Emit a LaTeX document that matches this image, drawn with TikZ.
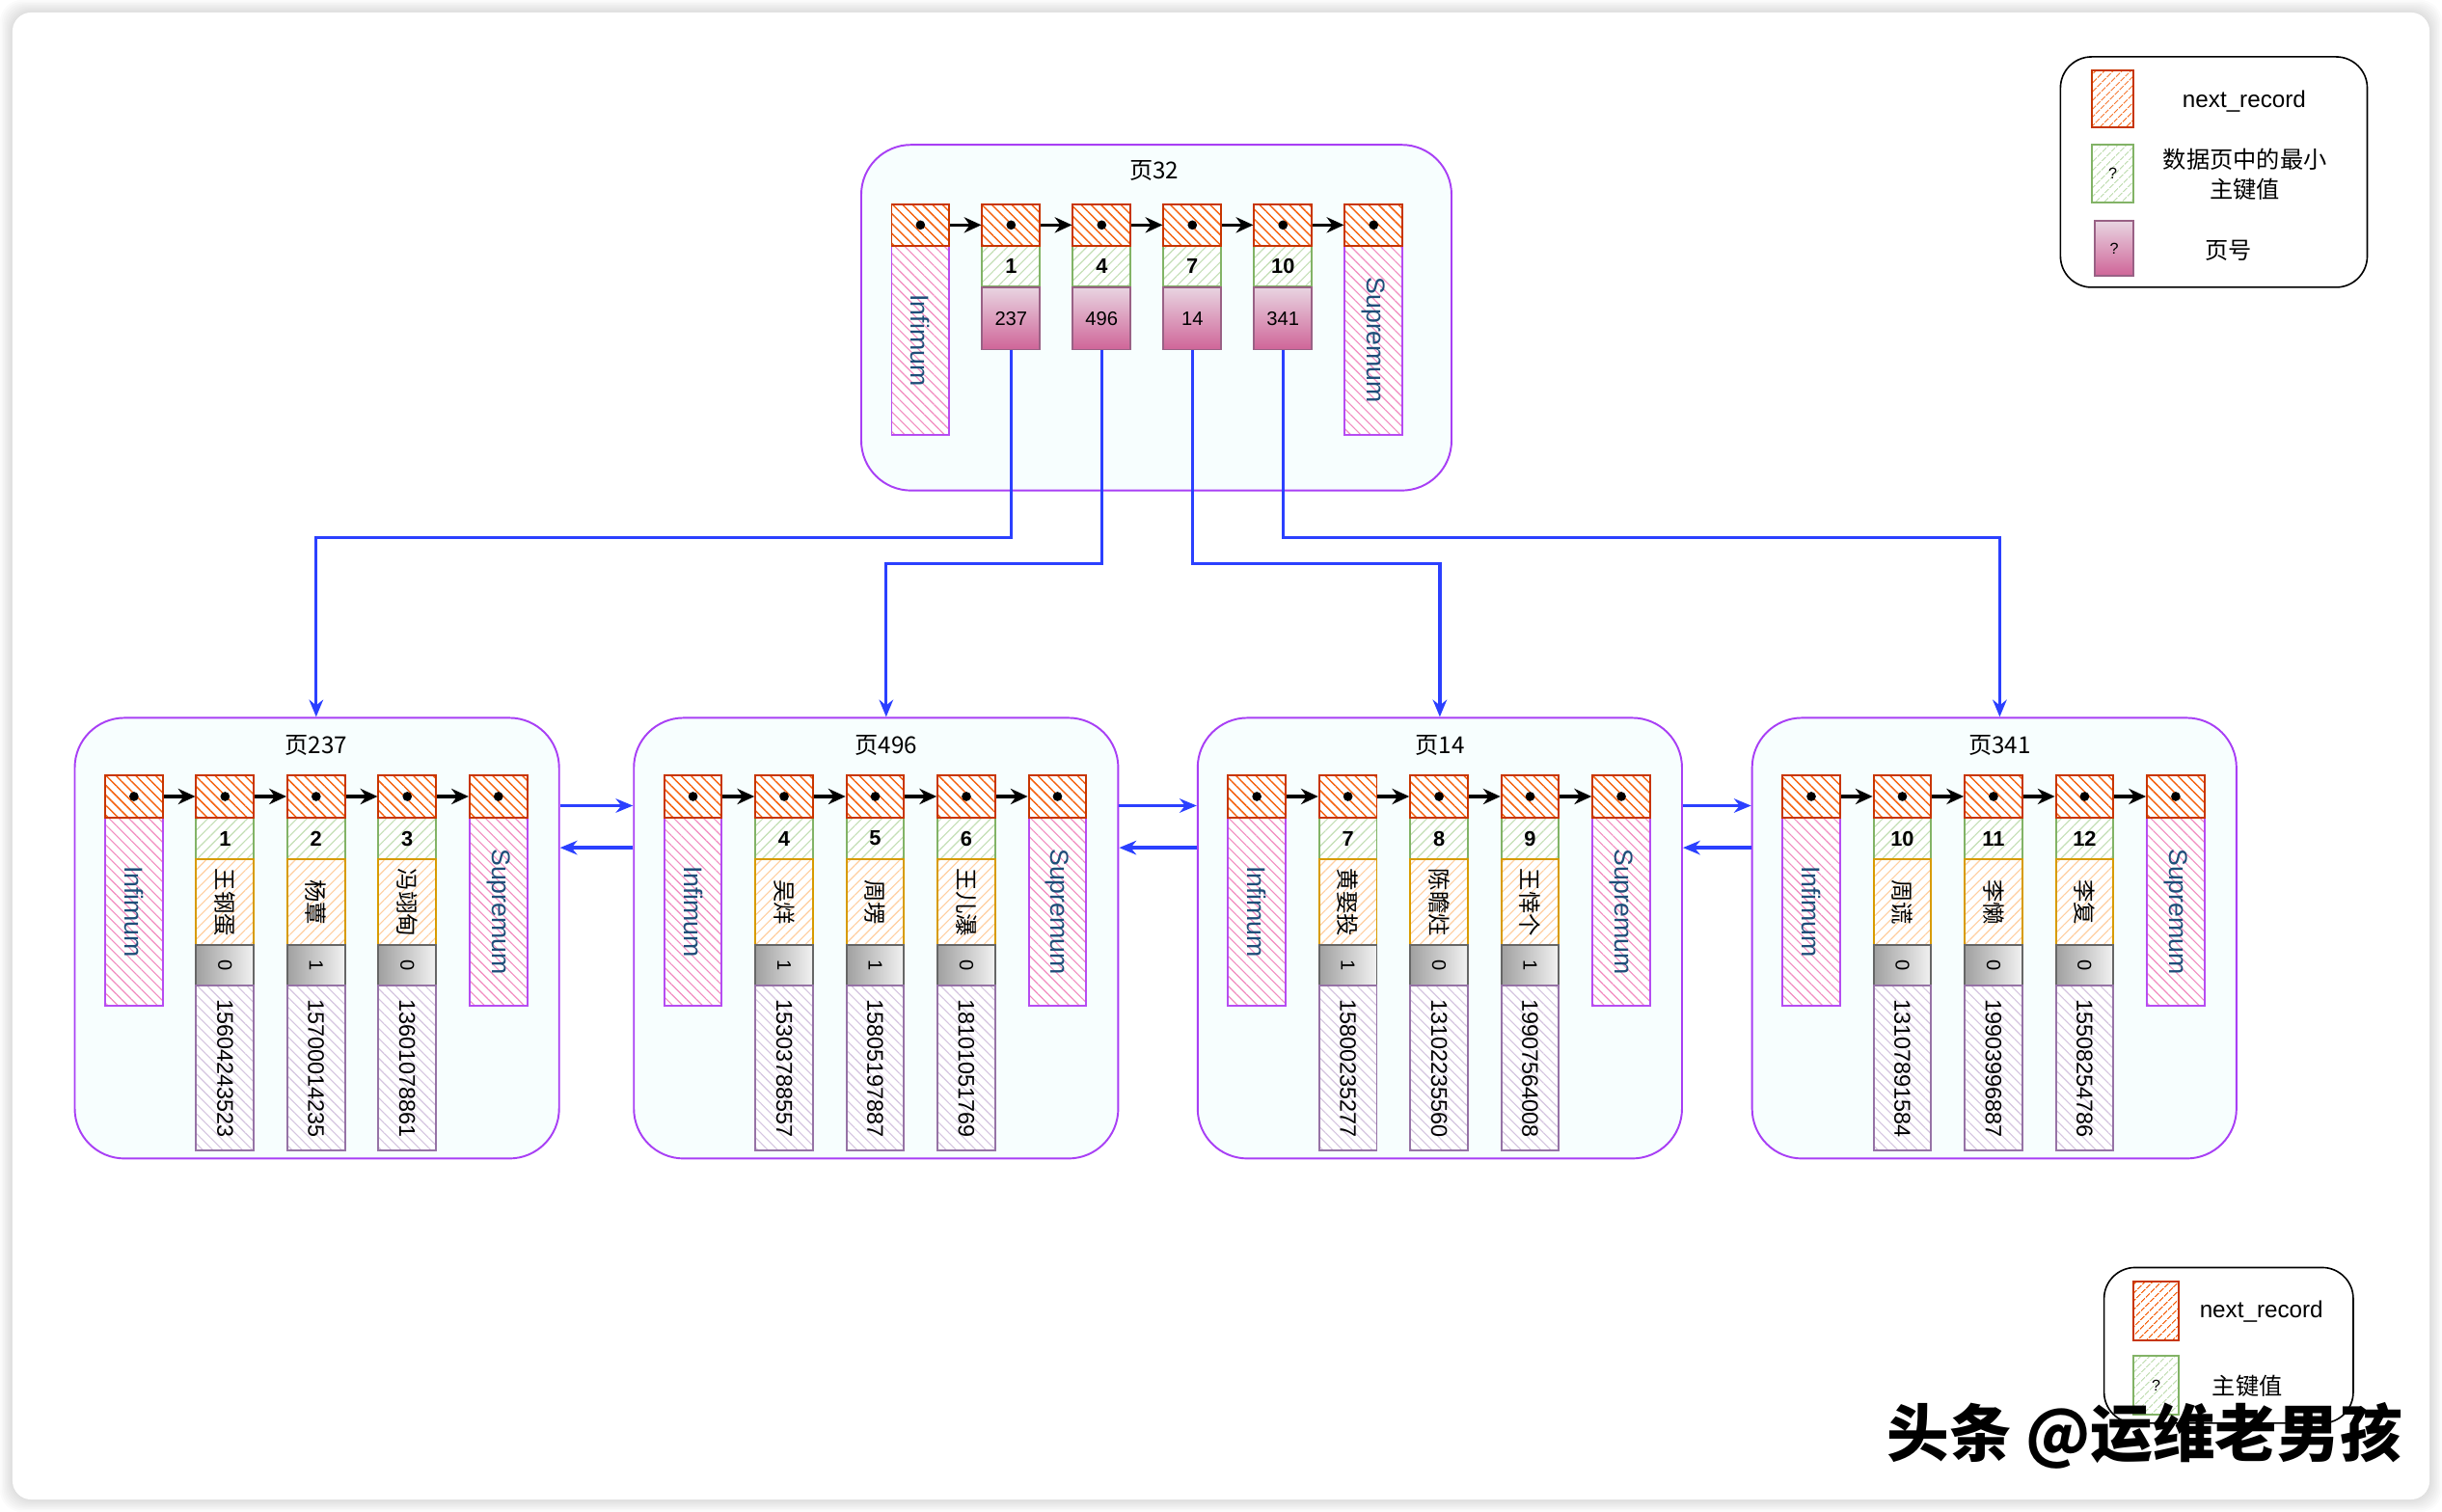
\documentclass[tikz,border=0pt]{standalone}
\usepackage{fontspec}
\setmainfont{Liberation Sans}
\newfontfamily\cjk{Noto Sans CJK SC}
\usetikzlibrary{arrows.meta,patterns.meta}
\definecolor{ptrline}{HTML}{C73500}
\definecolor{ptrhatch}{HTML}{F5620F}
\definecolor{keyline}{HTML}{82B366}
\definecolor{keyhatch}{HTML}{C4DFB6}
\definecolor{nameline}{HTML}{D79B00}
\definecolor{namehatch}{HTML}{FFCFA0}
\definecolor{phoneline}{HTML}{9673A6}
\definecolor{phonehatch}{HTML}{D5C5E0}
\definecolor{bordline}{HTML}{B64CF2}
\definecolor{bordhatch}{HTML}{F28CC0}
\definecolor{bordtext}{HTML}{1E4E79}
\definecolor{pnline}{HTML}{996185}
\definecolor{pntop}{HTML}{E8D4E1}
\definecolor{pnbot}{HTML}{CF6598}
\definecolor{flagline}{HTML}{666666}
\definecolor{flagdark}{HTML}{A0A0A0}
\definecolor{flaglight}{HTML}{F2F2F2}
\definecolor{pageline}{HTML}{A83FF5}
\definecolor{pagefill}{HTML}{F7FEFE}
\definecolor{linkblue}{HTML}{2B40FF}

\begin{document}
\begin{tikzpicture}[x=1pt,y=-1pt]
	\tikzstyle{ptr}=[draw=ptrline,line width=1.2pt,preaction={fill=white},pattern={Lines[angle=-45,distance=4.5pt,line width=0.9pt]},pattern color=ptrhatch,minimum width=37pt,minimum height=27pt,inner sep=0pt,path picture={\fill[black] (path picture bounding box.center) circle (3pt);}]
	\tikzstyle{key}=[draw=keyline,line width=1.2pt,preaction={fill=white},pattern={Lines[angle=45,distance=4.5pt,line width=0.7pt]},pattern color=keyhatch,minimum width=37pt,minimum height=27pt,inner sep=0pt,font=\bfseries\fontsize{13.5pt}{15pt}\selectfont]
	\tikzstyle{uname}=[draw=nameline,line width=1.2pt,preaction={fill=white},pattern={Lines[angle=45,distance=4.5pt,line width=0.7pt]},pattern color=namehatch,minimum width=37pt,minimum height=55pt,inner sep=0pt,font=\cjk\fontsize{14.5pt}{16pt}\selectfont]
	\tikzstyle{flag}=[draw=flagline,line width=1.2pt,left color=flagdark,right color=flaglight,minimum width=37pt,minimum height=26pt,inner sep=0pt,font=\fontsize{12.5pt}{14pt}\selectfont]
	\tikzstyle{phone}=[draw=phoneline,line width=1.2pt,preaction={fill=white},pattern={Lines[angle=-45,distance=4.5pt,line width=0.7pt]},pattern color=phonehatch,minimum width=37pt,minimum height=106pt,inner sep=0pt,font=\fontsize{14.5pt}{16pt}\selectfont]
	\tikzstyle{bound}=[draw=bordline,line width=1.2pt,preaction={fill=white},pattern={Lines[angle=-45,distance=4.5pt,line width=0.7pt]},pattern color=bordhatch,minimum width=37pt,minimum height=121pt,inner sep=0pt,text=bordtext,font=\fontsize{16.5pt}{18pt}\selectfont]
	\tikzstyle{pgno}=[draw=pnline,line width=1.2pt,top color=pntop,bottom color=pnbot,minimum width=37pt,minimum height=40pt,inner sep=0pt,font=\fontsize{12.5pt}{14pt}\selectfont]
	\tikzstyle{page}=[draw=pageline,fill=pagefill,line width=1.2pt,rounded corners=32pt,inner sep=0pt]
	\tikzstyle{pgtitle}=[font=\cjk\fontsize{15pt}{17pt}\selectfont,inner sep=1pt]
	\tikzstyle{next}=[-{Stealth[length=11pt,width=10pt]},line width=2pt]
	\tikzstyle{link}=[-{Stealth[length=11pt,width=9pt]},draw=linkblue,line width=2pt]
	\tikzstyle{legend}=[draw=black,fill=white,line width=1pt,rounded corners=20pt,inner sep=0pt]
	\tikzstyle{lgtext}=[font=\fontsize{15pt}{19pt}\selectfont,inner sep=1pt]
	\tikzstyle{swatch}=[line width=1.2pt,preaction={fill=white},pattern={Lines[angle=45,distance=4pt,line width=0.7pt]},minimum width=27pt,minimum height=37pt,inner sep=0pt,font=\fontsize{10pt}{12pt}\selectfont]
	% sheet with soft shadow
	\useasboundingbox (0,0) rectangle (1568,971);
	\fill[white] (0,0) rectangle (1568,971);
	\foreach \s in {1,...,8}
		\fill[black,opacity=0.014,rounded corners=14pt] (8-\s,8-\s) rectangle (1560+\s,963+\s);
	\fill[white,rounded corners=12pt] (8,8) rectangle (1560,963);
	% root page
	\node[page,minimum width=379pt,minimum height=222pt] (p32) at (742.5,204) {};
	\node[pgtitle] (ttl32) at (741,109.5) {页32};
	\node[bound] (r0-b) at (591,218.5) {\rotatebox{-90}{Infimum}};
	\node[bound] (r5-b) at (882,218.5) {\rotatebox{-90}{Supremum}};
	\node[ptr] (r0) at (591,144.5) {};
	\node[ptr] (r5) at (882,144.5) {};
	\foreach \i/\kk/\pn in {1/1/237,2/4/496,3/7/14,4/10/341} {
		\node[key,minimum height=26pt] (r\i-k) at (591+58.2*\i,171) {\kk};
		\node[pgno] (pn\pn) at (591+58.2*\i,204.5) {\pn};
		\node[ptr] (r\i) at (591+58.2*\i,144.5) {};
	}
	\foreach \a/\b in {0/1,1/2,2/3,3/4,4/5}
		\draw[next] (r\a) -- (r\b);
	% leaf pages
	\foreach \pg/\px/\tix in {237/48/203,496/407/569,14/769/924.5,341/1125/1284} {
		\node[page,minimum width=311pt,minimum height=283pt] (p\pg) at (\px+155.5,602.5) {};
		\node[pgtitle] (ttl\pg) at (\tix,479) {页\pg};
		\node[bound] (p\pg-inf) at (\px+38,585.5) {\rotatebox{-90}{Infimum}};
		\node[bound] (p\pg-sup) at (\px+272,585.5) {\rotatebox{-90}{Supremum}};
		\node[ptr] (p\pg-0) at (\px+38,511.5) {};
		\node[ptr] (p\pg-4) at (\px+272,511.5) {};
	}
	\foreach \pg/\px/\i/\kk/\nm/\fl/\ph in {
		237/48/1/1/王钢蛋/0/15604243523, 237/48/2/2/杨蕈/1/15700014235, 237/48/3/3/冯翊甸/0/13601078861,
		496/407/1/4/吴烊/1/15303788557, 496/407/2/5/周塄/1/15805197887, 496/407/3/6/王儿瀑/0/18101051769,
		14/769/1/7/黄娶投/1/15800235277, 14/769/2/8/陈瞻炷/0/13102235560, 14/769/3/9/王悻个/1/19907564008,
		341/1125/1/10/周谎/0/13107891584, 341/1125/2/11/李懒/0/19903996887, 341/1125/3/12/李复/0/15508254786} {
		\node[key] (p\pg-k\i) at (\px+38+58.5*\i,538.5) {\kk};
		\node[uname] (p\pg-n\i) at (\px+38+58.5*\i,579.5) {\rotatebox{-90}{\nm}};
		\node[flag] (p\pg-f\i) at (\px+38+58.5*\i,620) {\rotatebox{-90}{\fl}};
		\node[phone] (p\pg-t\i) at (\px+38+58.5*\i,686) {\rotatebox{-90}{\ph}};
		\node[ptr] (p\pg-\i) at (\px+38+58.5*\i,511.5) {};
	}
	\foreach \pg in {237,496,14,341}
		\foreach \a/\b in {0/1,1/2,2/3,3/4}
			\draw[next] (p\pg-\a) -- (p\pg-\b);
	% sibling links
	\foreach \a/\b in {237/496,496/14,14/341} {
		\draw[link] ([yshift=-57pt]p\a.north east) -- ([yshift=-57pt]p\b.north west);
		\draw[link] ([yshift=-84pt]p\b.north west) -- ([yshift=-84pt]p\a.north east);
	}
	% child links
	\draw[link] (pn237.south) -- ++(0,120) -| (ttl237 |- p237.north);
	\draw[link] (pn496.south) -- ++(0,137) -| (ttl496 |- p496.north);
	\draw[link] (pn14.south) -- ++(0,137) -| (ttl14 |- p14.north);
	\draw[link] (pn341.south) -- ++(0,120) -| (ttl341 |- p341.north);
	% legends
	\node[legend,minimum width=197pt,minimum height=148pt] (lgd1) at (1421.5,110.5) {};
	\node[swatch,draw=ptrline,pattern color=ptrhatch] (lgd1-a) at (1356.5,63.5) {};
	\node[swatch,draw=keyline,pattern color=keyhatch] (lgd1-b) at (1356.5,111.5) {?};
	\node[pgno,minimum width=25pt,minimum height=35pt,font=\fontsize{10pt}{12pt}\selectfont] (lgd1-c) at (1357.5,159.5) {?};
	\node[lgtext] (lgd1-ta) at (1441,65) {next\_record};
	\node[lgtext,align=center,font=\cjk\fontsize{15pt}{19pt}\selectfont] (lgd1-tb) at (1441.5,112) {数据页中的最小\\主键值};
	\node[lgtext,font=\cjk\fontsize{15pt}{19pt}\selectfont] (lgd1-tc) at (1431,161) {页号};
	\node[legend,minimum width=160pt,minimum height=100pt] (lgd2) at (1431,864) {};
	\node[swatch,draw=ptrline,pattern color=ptrhatch,minimum width=29pt,minimum height=38pt] (lgd2-a) at (1384.5,842) {};
	\node[swatch,draw=keyline,pattern color=keyhatch,minimum width=29pt,minimum height=38pt] (lgd2-b) at (1384.5,889.5) {?};
	\node[lgtext] (lgd2-ta) at (1452,842) {next\_record};
	\node[lgtext,font=\cjk\fontsize{15pt}{19pt}\selectfont] (lgd2-tb) at (1443,890) {主键值};
	% watermark
	\node[font=\cjk\bfseries\fontsize{40pt}{44pt}\selectfont,inner sep=0pt] (mark) at (1377,922) {头条 @运维老男孩};
\end{tikzpicture}
\end{document}
